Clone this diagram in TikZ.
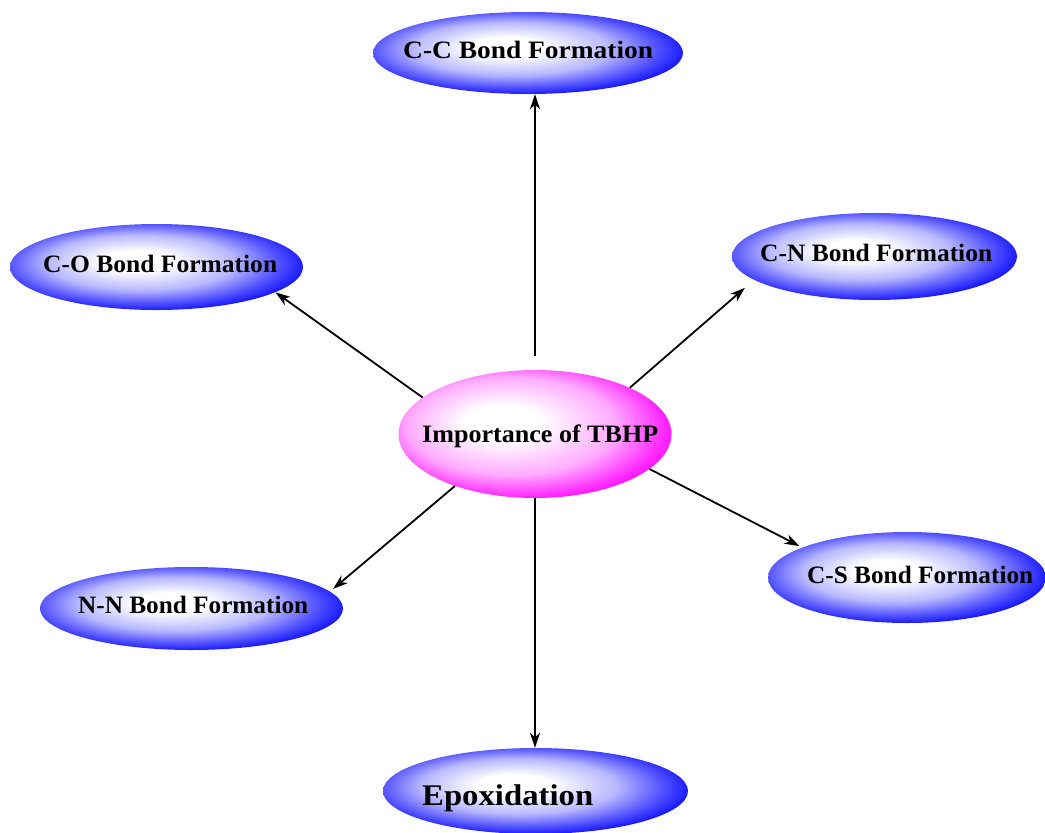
\documentclass[tikz,border=0pt]{standalone}
\usepackage{fontspec}
\setmainfont{Liberation Serif}
\usepackage{graphicx}
\usetikzlibrary{shapes.geometric,arrows.meta}
\pgfdeclareradialshading{bluesh}{\pgfpoint{-4bp}{4bp}}{color(0bp)=(white); color(6bp)=(white); color(16bp)=(blue!28!white); color(23bp)=(blue!68!white); color(29bp)=(blue); color(50bp)=(blue)}
\pgfdeclareradialshading{magsh}{\pgfpoint{-7bp}{5bp}}{color(0bp)=(white); color(7bp)=(white); color(19bp)=(magenta!33!white); color(27bp)=(magenta!85!white); color(32bp)=(magenta); color(50bp)=(magenta)}
\newcommand\fitw[2]{\resizebox{#1}{\height}{#2}}
\tikzset{
  oval/.style={ellipse, inner sep=0pt, shading=bluesh},
  ovalm/.style={ellipse, inner sep=0pt, shading=magsh},
  lbl/.style={anchor=base west, inner sep=0pt, text=black, font=\bfseries\fontsize{25}{25}\selectfont},
  arr/.style={-{Stealth[length=15pt,width=10pt,inset=4.5pt]}, line width=1.8pt, black}
}
\begin{document}
\begin{tikzpicture}[x=1pt,y=-1pt]
\useasboundingbox (0,0) rectangle (1045,833);
% ellipses
\node[oval, minimum width=310pt, minimum height=82pt] (cc) at (528,53) {};
\node[oval, minimum width=293pt, minimum height=86pt] (co) at (156.5,267) {};
\node[oval, minimum width=285pt, minimum height=87pt] (cn) at (874.5,256.5) {};
\node[ovalm, minimum width=273pt, minimum height=128pt] (imp) at (535,434) {};
\node[oval, minimum width=278pt, minimum height=91pt] (cs) at (907,577.5) {};
\node[oval, minimum width=303pt, minimum height=83pt] (nn) at (191.5,608.5) {};
\node[oval, minimum width=305pt, minimum height=86pt] (ep) at (535.5,791) {};
% labels
\node[lbl] (cc-t) at (403,58) {\fitw{250pt}{C-C Bond Formation}};
\node[lbl] (co-t) at (43,272) {\fitw{234pt}{C-O Bond Formation}};
\node[lbl] (cn-t) at (760,261) {\fitw{232pt}{C-N Bond Formation}};
\node[lbl] (imp-t) at (422,442) {\fitw{236pt}{Importance of TBHP}};
\node[lbl] (cs-t) at (807,583) {\fitw{226pt}{C-S Bond Formation}};
\node[lbl] (nn-t) at (78,613) {\fitw{230pt}{N-N Bond Formation}};
\node[lbl, font=\bfseries\fontsize{30}{30}\selectfont] (ep-t) at (422,805) {\fitw{171pt}{Epoxidation}};
% connectors
\draw[arr, shorten <=14pt] (imp.north) -- (imp.north |- cc.south);
\draw[arr] (imp.162) -- (co.-12);
\draw[arr, shorten >=12pt] (imp.26) -- (cn.191);
\draw[arr, shorten >=3pt] (imp.343) -- (cs.164);
\draw[arr, shorten >=4pt] (imp.213) -- (nn.7);
\draw[arr] (imp.south) -- (imp.south |- ep.north);
\end{tikzpicture}
\end{document}
